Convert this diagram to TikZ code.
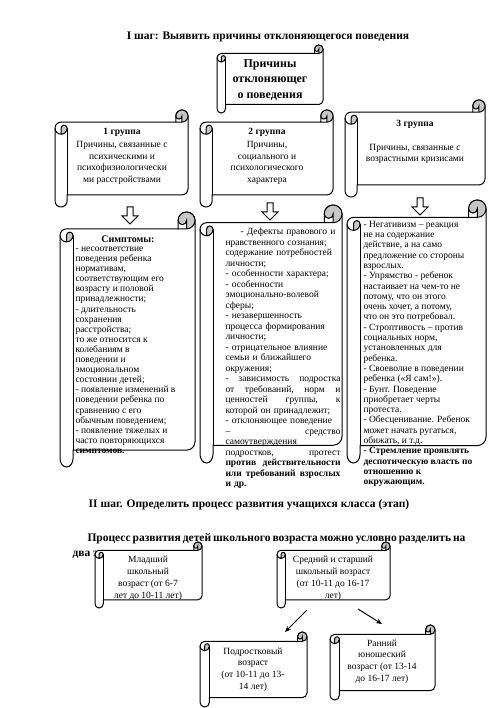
\documentclass[tikz,border=0pt]{standalone}
\usepackage{fontspec}
\setmainfont{Liberation Serif}
\usetikzlibrary{arrows.meta}
\definecolor{curlgrey}{gray}{0.78}
\begin{document}
\begin{tikzpicture}[x=1pt,y=-1pt,line width=1pt,
  headtext/.style={inner sep=0pt,font=\bfseries\fontsize{11.5}{15}\selectfont},
  scrolltext/.style={inner sep=0pt,align=center,font=\fontsize{9.5}{11.5}\selectfont},
  listtext/.style={inner sep=0pt,anchor=north west,align=left,font=\fontsize{9.5}{10.1}\selectfont}]
   \newcommand{\scrollBox}[4]{
        \pgfmathsetmacro{\ch}{0.125*min(#3-#1,#4-#2)}
        \pgfmathsetmacro{\chh}{\ch/2}
        \pgfmathsetmacro{\chq}{\ch/4}
        \pgfmathsetmacro{\rw}{min(\ch,13)}
        \pgfmathsetmacro{\rwh}{\rw/2}
        \pgfmathsetmacro{\rwq}{\rw/4}
        \pgfmathsetmacro{\cy}{#2+\ch+\rwh}
        \filldraw[fill=white] (#1,\cy) arc[start angle=180,delta angle=90,radius=\rwh]
          -- (#3-\ch,#2+\ch) -- (#3-\ch,#2+\chh) arc[start angle=180,delta angle=180,radius=\chh]
          -- (#3,#4-1.5*\ch) arc[start angle=0,delta angle=90,radius=\chh]
          -- (#1+\rw,#4-\ch) -- (#1+\rw,#4-\chh) arc[start angle=0,delta angle=180,x radius=\rwh,y radius=\chh] -- cycle;
        \fill[curlgrey] (#3-\chh,#2+\ch) arc[start angle=90,delta angle=-270,radius=\chh]
          arc[start angle=180,delta angle=-180,radius=\chq] -- cycle;
        \fill[curlgrey] (#1+\rwh,\cy+\rwh) arc[start angle=90,delta angle=-90,radius=\rwh]
          arc[start angle=0,delta angle=-180,radius=\rwq] -- cycle;
        \draw (#3-\ch,#2+\chh) arc[start angle=180,delta angle=270,radius=\chh] -- (#3-\ch,#2+\ch);
        \draw (#3-\chh,#2+\ch) -- (#3-\chh,#2+\chh) arc[start angle=0,delta angle=180,radius=\chq];
        \draw (#1+\rwh,\cy+\rwh) -- (#1+\rwh,\cy) arc[start angle=180,delta angle=180,radius=\rwq]
          arc[start angle=0,delta angle=180,radius=\rwh];
        \draw (#1+\rw,\cy) -- (#1+\rw,#4-\ch);
    }
    \newcommand{\hollowArrow}[2]{
        \draw[fill=white] (#1-3,#2) -- (#1+3,#2) -- (#1+3,#2+9) -- (#1+8,#2+9)
          -- (#1,#2+17) -- (#1-8,#2+9) -- (#1-3,#2+9) -- cycle;
    }
  \useasboundingbox[fill=white] (0,0) rectangle (500,708);
  \node[headtext] (step1) at (268,37) {I шаг: Выявить причины отклоняющегося поведения};
  \scrollBox{217}{45}{323}{113}
  \node[scrolltext,font=\bfseries\fontsize{12}{15.5}\selectfont] (causes) at (270,80) {Причины\\отклоняющег\\о поведения};
  \scrollBox{55}{110}{188}{207}
  \node[scrolltext] (group1) at (122,156) {\textbf{1 группа}\\[2pt]Причины, связанные с\\психическими и\\психофизиологически\\ми расстройствами};
  \scrollBox{200}{110}{333}{207}
  \node[scrolltext] (group2) at (267,156) {\textbf{2 группа}\\[2pt]Причины,\\социального и\\психологического\\характера};
  \scrollBox{345}{100}{485}{197}
  \node[scrolltext] (group3) at (415,142) {\textbf{3 группа}\\[12pt]Причины, связанные с\\возрастными кризисами};
  \hollowArrow{130}{207}
  \hollowArrow{270}{203}
  \hollowArrow{420}{198}
  \scrollBox{60}{212}{195}{467}
  \node[inner sep=0pt,font=\bfseries\fontsize{10}{12}\selectfont] (sympt) at (128,239) {Симптомы:};
  \node[listtext] (list1) at (75,246.5) {- несоответствие\\поведения ребенка\\нормативам,\\соответствующим его\\возрасту и половой\\принадлежности;\\- длительность\\сохранения\\расстройства;\\то же относится к\\колебаниям в\\поведении и\\эмоциональном\\состоянии детей;\\- появление изменений в\\поведении ребенка по\\сравнению с его\\обычным поведением;\\- появление тяжелых и\\часто повторяющихся\\\textbf{симптомов.}};
  \scrollBox{200}{205}{342}{463}
  \node[listtext,text width=115pt,font=\fontsize{9.5}{10.5}\selectfont] (list2) at (225,227.5) {\hspace*{15pt}- Дефекты правового и\\нравственного сознания;\\содержание потребностей\\личности;\\- особенности характера;\\- особенности\\эмоционально-волевой\\сферы;\\- незавершенность\\процесса формирования\\личности;\\- отрицательное влияние\\семьи и ближайшего\\окружения;\\-\hfill зависимость\hfill подростка\\от\hfill требований,\hfill норм\hfill и\\ценностей\hfill группы,\hfill к\\которой он принадлежит;\\- отклоняющее поведение\\–\hfill средство\\самоутверждения\\подростков,\hfill протест\\\bfseries против\hfill действительности\\или\hfill требований\hfill взрослых\\и др.};
  \scrollBox{347}{200}{486}{463}
  \node[listtext,font=\fontsize{9.5}{10.3}\selectfont] (list3) at (363,220.5) {- Негативизм – реакция\\не на содержание\\действие, а на само\\предложение со стороны\\взрослых.\\- Упрямство - ребенок\\настаивает на чем-то не\\потому, что он этого\\очень хочет, а потому,\\что он это потребовал.\\- Строптивость – против\\социальных норм,\\установленных для\\ребенка.\\- Своеволие в поведении\\ребенка («Я сам!»).\\- Бунт. Поведение\\приобретает черты\\протеста.\\- Обесценивание. Ребенок\\может начать ругаться,\\обижать, и т.д.\\\textbf{- Стремление проявлять}\\\textbf{деспотическую власть по}\\\textbf{отношению к}\\\textbf{окружающим.}};
  \node[headtext] (step2) at (249,505) {II шаг. Определить процесс развития учащихся класса (этап)};
  \node[headtext,anchor=north west,text width=393pt,align=justify] (intro) at (72,533) {\hspace*{15pt}Процесс развития детей школьного возраста можно условно разделить на\linebreak два этапа:};
  \scrollBox{95}{542}{202}{608}
  \node[scrolltext,font=\fontsize{9.5}{12}\selectfont] (junior) at (148,578) {Младший\\школьный\\возраст (от 6-7\\лет до 10-11 лет)};
  \scrollBox{277}{542}{390}{608}
  \node[scrolltext,font=\fontsize{9.5}{12}\selectfont] (senior) at (333,578) {Средний и старший\\школьный возраст\\(от 10-11 до 16-17\\лет)};
  \scrollBox{200}{632}{307}{707}
  \node[scrolltext,font=\fontsize{9.5}{11.7}\selectfont] (teen) at (253,669.5) {Подростковый\\возраст\\(от 10-11 до 13-\\14 лет)};
  \scrollBox{330}{625}{435}{700}
  \node[scrolltext,font=\fontsize{9.5}{11.7}\selectfont] (youth) at (382,661.5) {Ранний\\юношеский\\возраст (от 13-14\\до 16-17 лет)};
  \coordinate (a1) at (307,610);
  \coordinate (b1) at (285,632);
  \coordinate (a2) at (358,609);
  \coordinate (b2) at (382,624);
  \draw[line width=1pt,-{Stealth[length=6pt,width=5pt]}] (a1) -- (b1);
  \draw[line width=1pt,-{Stealth[length=6pt,width=5pt]}] (a2) -- (b2);
\end{tikzpicture}
\end{document}
